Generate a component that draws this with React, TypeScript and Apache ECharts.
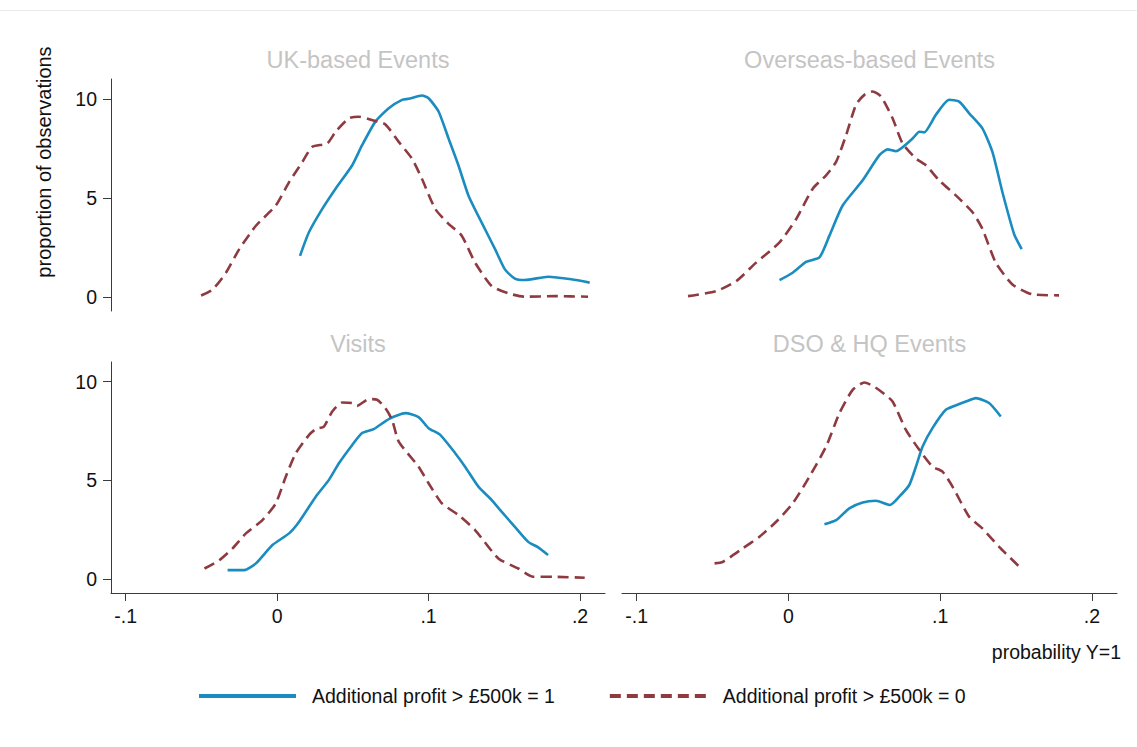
import React, { useEffect, useRef } from "react";
import * as echarts from "echarts";

// Kernel density curves of predicted probability, by event type and outcome.
const seriesNames = ["Additional profit > £500k = 1", "Additional profit > £500k = 0"];
const panelTitles = ["UK-based Events", "Overseas-based Events", "Visits", "DSO & HQ Events"];
const xTicks = [-0.1, 0, 0.1, 0.2];
const yTicks = [0, 5, 10];

const ukPos = [
  [0.0151, 2.08], [0.021, 3.27], [0.0298, 4.45], [0.0386, 5.47], [0.0496, 6.65], [0.0561, 7.66],
  [0.0649, 8.85], [0.0737, 9.53], [0.0825, 9.95], [0.0868, 10.0], [0.0956, 10.17], [0.1, 10.03],
  [0.1066, 9.36], [0.1132, 8.0], [0.1197, 6.65], [0.1263, 5.13], [0.135, 3.77], [0.1439, 2.42],
  [0.1504, 1.4], [0.157, 0.93], [0.1636, 0.86], [0.179, 1.03], [0.1943, 0.9], [0.2064, 0.73],
];
const ukNeg = [
  [-0.0502, 0.08], [-0.0425, 0.39], [-0.0338, 1.23], [-0.025, 2.42], [-0.014, 3.6], [-0.0009, 4.62],
  [0.0079, 5.8], [0.0167, 6.82], [0.0232, 7.58], [0.0331, 7.75], [0.0386, 8.34], [0.0474, 9.02],
  [0.0539, 9.1], [0.0649, 8.88], [0.0715, 8.71], [0.0803, 7.83], [0.089, 6.99], [0.0956, 5.97],
  [0.1044, 4.45], [0.1132, 3.69], [0.1219, 3.1], [0.1307, 1.74], [0.1417, 0.56], [0.1526, 0.19],
  [0.1636, 0.02], [0.1833, 0.05], [0.2053, 0.02],
];
const osPos = [
  [-0.0059, 0.86], [0.0028, 1.23], [0.0116, 1.78], [0.0204, 2.0], [0.027, 3.1], [0.0357, 4.62],
  [0.0489, 5.89], [0.0599, 7.16], [0.0653, 7.45], [0.0708, 7.36], [0.0818, 8.0], [0.0862, 8.34],
  [0.0895, 8.31], [0.0971, 9.19], [0.1059, 9.95], [0.1125, 9.86], [0.1191, 9.27], [0.1278, 8.51],
  [0.1344, 7.32], [0.141, 5.29], [0.1487, 3.18], [0.1537, 2.42],
];
const osNeg = [
  [-0.0662, 0.05], [-0.0476, 0.3], [-0.0344, 0.81], [-0.0213, 1.74], [-0.0059, 2.76], [0.0051, 3.94],
  [0.016, 5.47], [0.0248, 6.14], [0.0314, 6.82], [0.038, 8.17], [0.0445, 9.7], [0.05, 10.2],
  [0.0555, 10.37], [0.061, 10.12], [0.0686, 9.02], [0.0752, 7.75], [0.084, 6.99], [0.0906, 6.65],
  [0.0993, 5.89], [0.1103, 5.13], [0.1213, 4.28], [0.1278, 3.44], [0.1366, 1.74], [0.1476, 0.64],
  [0.1607, 0.14], [0.1783, 0.09],
];
const visPos = [
  [-0.0327, 0.46], [-0.0217, 0.46], [-0.014, 0.8], [-0.0031, 1.73], [0.0079, 2.32], [0.0145, 2.91],
  [0.0255, 4.18], [0.0342, 5.03], [0.0408, 5.87], [0.0496, 6.8], [0.0561, 7.4], [0.0638, 7.6],
  [0.0737, 8.11], [0.0847, 8.41], [0.0934, 8.21], [0.1, 7.65], [0.1077, 7.31], [0.1176, 6.38],
  [0.1241, 5.7], [0.1329, 4.69], [0.1417, 4.01], [0.1482, 3.42], [0.157, 2.65], [0.1658, 1.89],
  [0.1724, 1.61], [0.1789, 1.22],
];
const visNeg = [
  [-0.048, 0.54], [-0.0382, 0.96], [-0.0294, 1.56], [-0.0206, 2.32], [-0.0097, 2.99], [-0.0009, 3.84],
  [0.0057, 5.19], [0.0123, 6.38], [0.0211, 7.31], [0.0255, 7.6], [0.0309, 7.73], [0.0364, 8.49],
  [0.043, 8.95], [0.0496, 8.92], [0.0528, 8.78], [0.0605, 9.12], [0.066, 9.09], [0.0715, 8.66],
  [0.0759, 8.07], [0.0803, 6.97], [0.0934, 5.7], [0.1, 4.86], [0.1088, 3.84], [0.1197, 3.25],
  [0.1307, 2.49], [0.1461, 1.05], [0.1592, 0.54], [0.1691, 0.12], [0.1833, 0.12], [0.2031, 0.07],
];
const dsoPos = [
  [0.0237, 2.78], [0.0314, 2.99], [0.0401, 3.59], [0.0489, 3.89], [0.0577, 3.97], [0.0669, 3.76],
  [0.073, 4.18], [0.0796, 4.77], [0.084, 5.7], [0.0884, 6.72], [0.0949, 7.65], [0.1037, 8.58],
  [0.1125, 8.87], [0.1169, 9.0], [0.1235, 9.17], [0.1322, 8.92], [0.1399, 8.24],
];
const dsoNeg = [
  [-0.0487, 0.8], [-0.0432, 0.88], [-0.0301, 1.56], [-0.0191, 2.15], [-0.0081, 2.91], [0.0028, 3.84],
  [0.0138, 5.19], [0.0248, 6.72], [0.0336, 8.41], [0.0423, 9.59], [0.05, 9.96], [0.0555, 9.8],
  [0.061, 9.51], [0.0686, 9.0], [0.0774, 7.56], [0.0862, 6.55], [0.0949, 5.7], [0.1015, 5.45],
  [0.1081, 4.69], [0.1191, 3.16], [0.1278, 2.57], [0.1388, 1.64], [0.1515, 0.68],
];

const panelData = [
  [ukPos, ukNeg],
  [osPos, osNeg],
  [visPos, visNeg],
  [dsoPos, dsoNeg],
];

const FONT = '"Liberation Sans", Arial, Helvetica, sans-serif';
const BLUE = "#1a8cbf";
const MAROON = "#8e3a40";
const AXIS = "#3a3a3a";

const grids = [
  { left: 111, top: 79, width: 494, height: 232 },
  { left: 622, top: 79, width: 495, height: 232 },
  { left: 111, top: 362, width: 494, height: 231 },
  { left: 622, top: 362, width: 495, height: 231 },
];

const fmtX = (v: number) => {
  if (Math.abs(v) < 1e-9) return "0";
  const s = String(Math.abs(Math.round(v * 10) / 10)).replace(/^0/, "");
  return (v < 0 ? "-" : "") + s;
};

export default function App() {
  const ref = useRef<HTMLDivElement>(null);

  useEffect(() => {
    if (!ref.current) return;
    const chart = echarts.init(ref.current, undefined, { renderer: "svg" });

    const xAxis = grids.map((_, i) => ({
      type: "value",
      gridIndex: i,
      min: -0.1097,
      max: 0.2165,
      show: i >= 2,
      splitLine: { show: false },
      axisLine: { show: true, onZero: false, lineStyle: { color: AXIS, width: 1 } },
      axisTick: { show: true, length: 8, customValues: xTicks, lineStyle: { color: AXIS } },
      axisLabel: {
        customValues: xTicks,
        formatter: fmtX,
        margin: 13,
        fontSize: 19.5,
        fontFamily: FONT,
        color: "#111",
      },
    }));

    const yAxis = grids.map((_, i) => ({
      type: "value",
      gridIndex: i,
      min: -0.7,
      max: 11,
      show: i % 2 === 0,
      splitLine: { show: false },
      axisLine: { show: true, onZero: false, lineStyle: { color: AXIS, width: 1 } },
      axisTick: { show: true, length: 8, customValues: yTicks, lineStyle: { color: AXIS } },
      axisLabel: {
        customValues: yTicks,
        margin: 14,
        fontSize: 19.5,
        fontFamily: FONT,
        color: "#111",
      },
    }));

    const series: any[] = [];
    panelData.forEach((pair, i) => {
      series.push({
        name: seriesNames[0],
        type: "line",
        xAxisIndex: i,
        yAxisIndex: i,
        data: pair[0],
        symbol: "none",
        smooth: 0.2,
        lineStyle: { color: BLUE, width: 2.6 },
        itemStyle: { color: BLUE },
      });
      series.push({
        name: seriesNames[1],
        type: "line",
        xAxisIndex: i,
        yAxisIndex: i,
        data: pair[1],
        symbol: "none",
        smooth: 0.2,
        lineStyle: { color: MAROON, width: 2.6, type: [11, 6] },
        itemStyle: { color: MAROON },
      });
    });

    const titleTexts = panelTitles.map((t, i) => ({
      type: "text",
      x: grids[i].left + grids[i].width / 2,
      y: i < 2 ? 60 : 344,
      style: {
        text: t,
        fill: "#c4c4c4",
        fontSize: 23.5,
        fontFamily: FONT,
        align: "center",
        verticalAlign: "middle",
      },
    }));

    chart.setOption({
      animation: false,
      backgroundColor: "#ffffff",
      grid: grids,
      xAxis,
      yAxis,
      series,
      legend: {
        data: seriesNames,
        left: 197,
        top: 686,
        padding: 0,
        itemWidth: 97,
        itemHeight: 18,
        itemGap: 53,
        lineStyle: { width: 4 },
        itemStyle: { opacity: 0, borderWidth: 0 },
        textStyle: {
          fontSize: 19.5,
          fontFamily: FONT,
          color: "#111",
          padding: [0, 0, 0, 11],
        },
      },
      graphic: [
        {
          type: "line",
          shape: { x1: 0, y1: 10.5, x2: 1137, y2: 10.5 },
          style: { stroke: "#ececec", lineWidth: 1 },
        },
        ...titleTexts,
        {
          type: "text",
          x: 44,
          y: 162,
          rotation: Math.PI / 2,
          style: {
            text: "proportion of observations",
            fill: "#111",
            fontSize: 20,
            fontFamily: FONT,
            align: "center",
            verticalAlign: "middle",
          },
        },
        {
          type: "text",
          x: 1121,
          y: 652,
          style: {
            text: "probability Y=1",
            fill: "#111",
            fontSize: 19.5,
            fontFamily: FONT,
            align: "right",
            verticalAlign: "middle",
          },
        },
      ],
    });

    return () => chart.dispose();
  }, []);

  return (
    <div
      ref={ref}
      style={{ position: "fixed", left: 0, top: 0, width: 1137, height: 747, background: "#fff" }}
    />
  );
}
